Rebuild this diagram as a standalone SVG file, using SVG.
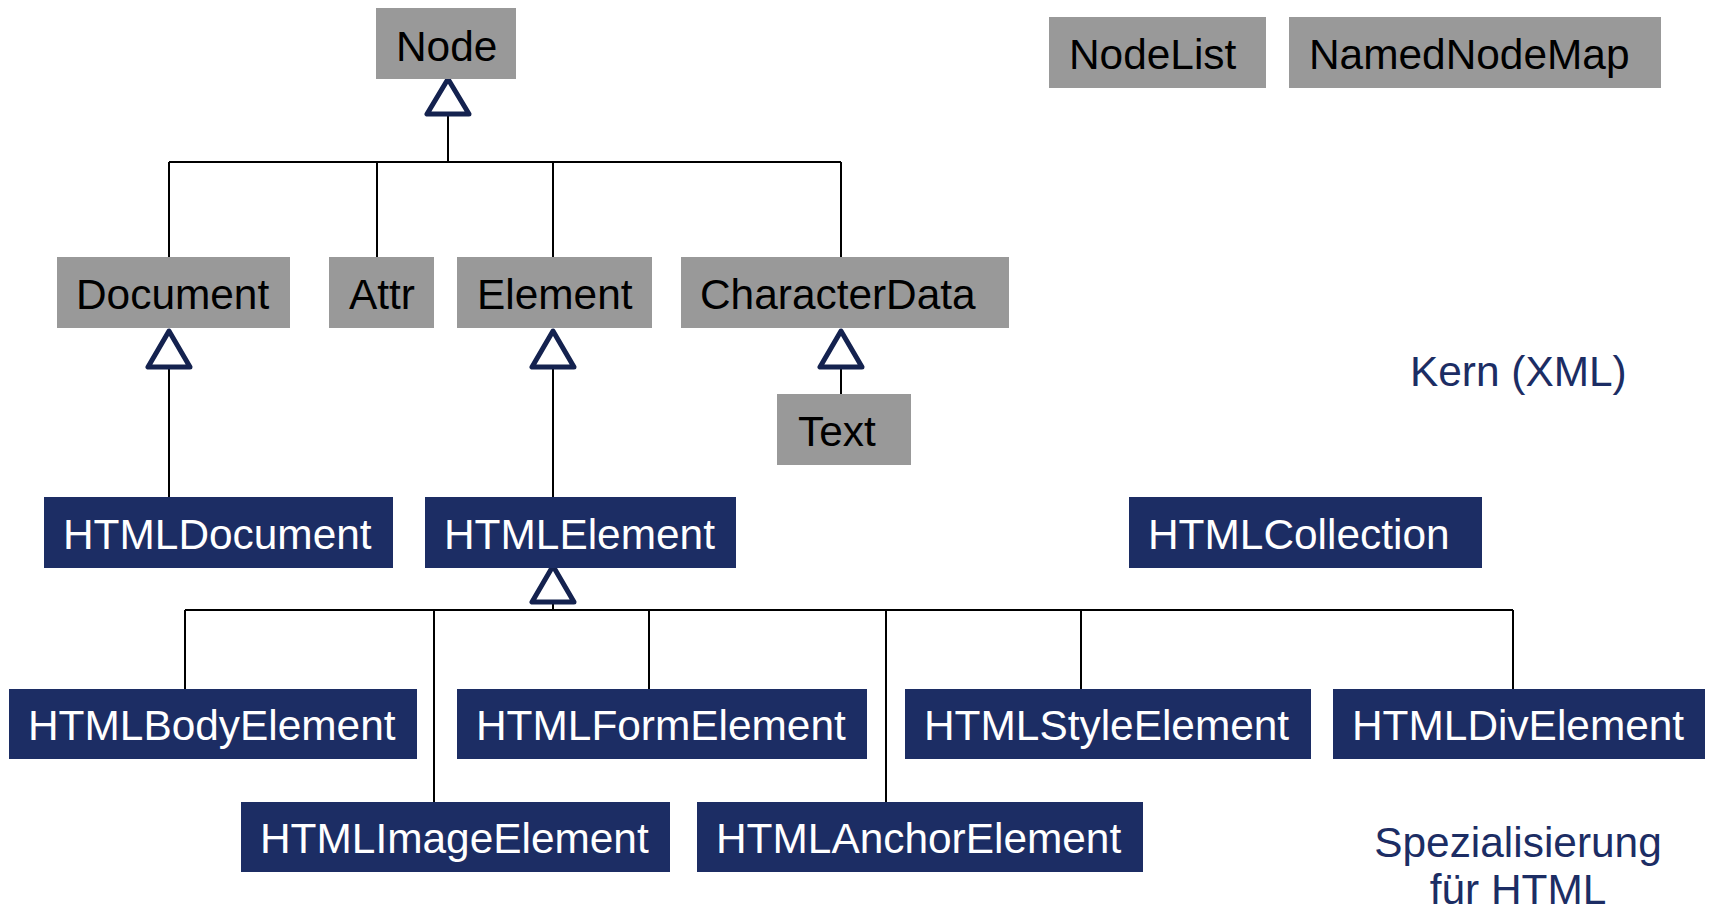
<svg xmlns="http://www.w3.org/2000/svg" width="1710" height="913" viewBox="0 0 1710 913">
<style>
  .g rect{fill:#999999}
  .g text{fill:#000000}
  .b rect{fill:#1c2d64}
  .b text{fill:#ffffff}
  text{font-family:"Liberation Sans",Arial,sans-serif;font-size:42.4px}
  .lbl{fill:#1c2d64}
  .ln{stroke:#000000;stroke-width:2;fill:none}
  .tri{stroke:#14224f;stroke-width:5;fill:#ffffff;stroke-linejoin:round}
</style>
<rect width="1710" height="913" fill="#ffffff"/>
<g id="connectors">
  <path class="ln" d="M448 114V162M169 162H841M169 162V257M377 162V257M553 162V257M841 162V257"/>
  <path class="ln" d="M169 367V497M553 367V497M841 367V394"/>
  <path class="ln" d="M553 602V610M185 610H1513M185 610V689M434 610V802M649 610V689M886 610V802M1081 610V689M1513 610V689"/>
  <polygon class="tri" points="448,79 427,114 469,114"/>
  <polygon class="tri" points="169,331 148,367 190,367"/>
  <polygon class="tri" points="553,331 532,367 574,367"/>
  <polygon class="tri" points="841,331 820,367 862,367"/>
  <polygon class="tri" points="553,566 532,602 574,602"/>
</g>
<g id="node-Node" class="g"><rect x="376" y="8" width="140" height="71"/><text x="396" y="61">Node</text></g>
<g id="node-NodeList" class="g"><rect x="1049" y="17" width="217" height="71"/><text x="1069" y="69">NodeList</text></g>
<g id="node-NamedNodeMap" class="g"><rect x="1289" y="17" width="372" height="71"/><text x="1309" y="69">NamedNodeMap</text></g>
<g id="node-Document" class="g"><rect x="57" y="257" width="233" height="71"/><text x="76" y="309">Document</text></g>
<g id="node-Attr" class="g"><rect x="329" y="257" width="105" height="71"/><text x="349" y="309">Attr</text></g>
<g id="node-Element" class="g"><rect x="457" y="257" width="195" height="71"/><text x="477" y="309">Element</text></g>
<g id="node-CharacterData" class="g"><rect x="681" y="257" width="328" height="71"/><text x="700" y="309">CharacterData</text></g>
<g id="node-Text" class="g"><rect x="777" y="394" width="134" height="71"/><text x="798" y="446">Text</text></g>
<g id="node-HTMLDocument" class="b"><rect x="44" y="497" width="349" height="71"/><text x="63" y="549">HTMLDocument</text></g>
<g id="node-HTMLElement" class="b"><rect x="425" y="497" width="311" height="71"/><text x="444" y="549">HTMLElement</text></g>
<g id="node-HTMLCollection" class="b"><rect x="1129" y="497" width="353" height="71"/><text x="1148" y="549">HTMLCollection</text></g>
<g id="node-HTMLBodyElement" class="b"><rect x="9" y="689" width="408" height="70"/><text x="28" y="740">HTMLBodyElement</text></g>
<g id="node-HTMLFormElement" class="b"><rect x="457" y="689" width="410" height="70"/><text x="476" y="740">HTMLFormElement</text></g>
<g id="node-HTMLStyleElement" class="b"><rect x="905" y="689" width="406" height="70"/><text x="924" y="740">HTMLStyleElement</text></g>
<g id="node-HTMLDivElement" class="b"><rect x="1333" y="689" width="372" height="70"/><text x="1352" y="740">HTMLDivElement</text></g>
<g id="node-HTMLImageElement" class="b"><rect x="241" y="802" width="429" height="70"/><text x="260" y="853">HTMLImageElement</text></g>
<g id="node-HTMLAnchorElement" class="b"><rect x="697" y="802" width="446" height="70"/><text x="716" y="853">HTMLAnchorElement</text></g>
<g id="labels">
  <text class="lbl" x="1410" y="386">Kern (XML)</text>
  <text class="lbl" x="1518" y="857" text-anchor="middle">Spezialisierung</text>
  <text class="lbl" x="1518" y="904" text-anchor="middle">für HTML</text>
</g>
</svg>
